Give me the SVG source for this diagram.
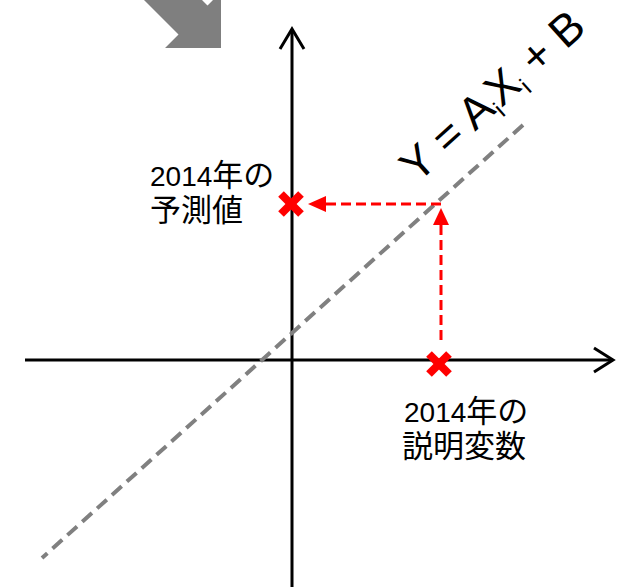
<svg xmlns="http://www.w3.org/2000/svg" width="630" height="587" viewBox="0 0 630 587">
<style>
.axis{stroke:#000;stroke-width:3;fill:none}
.reg{stroke:#808080;stroke-width:4;stroke-dasharray:13,7;fill:none}
.red{stroke:#ff0000;stroke-width:3;stroke-dasharray:10,5;fill:none}
.x{stroke:#ff0000;stroke-width:8;fill:none}
.lbl{font-family:"Liberation Sans","Noto Sans CJK JP",sans-serif;font-size:28px;fill:#000}
.cjk{font-size:31px}
.eq{font-family:"Liberation Sans","Noto Sans CJK JP",sans-serif;font-size:45px;fill:#000}
</style>
<g id="bigArrow">
<polygon points="124,-20 178.5,34.5 165,48 221,48 221,-8 207.5,5.5 182,-20" fill="#7f7f7f"/>
</g>
<g id="connectors">
<line class="axis" x1="292" y1="587" x2="292" y2="29"/>
<polyline class="axis" points="280,49 292,29 304,49"/>
<line class="axis" x1="25" y1="360" x2="613" y2="360"/>
<polyline class="axis" points="594,348 613,360 594,372"/>
<line class="reg" x1="523" y1="125" x2="42" y2="558"/>
<line class="red" x1="441" y1="204" x2="326" y2="204"/>
<path d="M308,204 L326,196 L326,212 Z" fill="#ff0000"/>
<line class="red" x1="441" y1="340" x2="441" y2="225"/>
<path d="M441,208 L433,225 L449,225 Z" fill="#ff0000"/>
</g>
<g id="markPred">
<line class="x" x1="281" y1="194" x2="301" y2="214"/>
<line class="x" x1="301" y1="194" x2="281" y2="214"/>
</g>
<g id="markExpl">
<line class="x" x1="429" y1="354" x2="449" y2="374"/>
<line class="x" x1="449" y1="354" x2="429" y2="374"/>
</g>
<g id="labelPred">
<text class="lbl" x="150" y="186">2014<tspan class="cjk">年の</tspan></text>
<text class="lbl cjk" x="150" y="221">予測値</text>
</g>
<g id="labelExpl">
<text class="lbl" x="404" y="422">2014<tspan class="cjk">年の</tspan></text>
<text class="lbl cjk" x="402" y="457">説明変数</text>
</g>
<g id="equation">
<text class="eq" transform="translate(417,184) rotate(-42)">Y = A<tspan font-size="24" dy="8">i</tspan><tspan dy="-8">X</tspan><tspan font-size="24" dy="8">i</tspan><tspan dy="-8"> + B</tspan></text>
</g>
</svg>
